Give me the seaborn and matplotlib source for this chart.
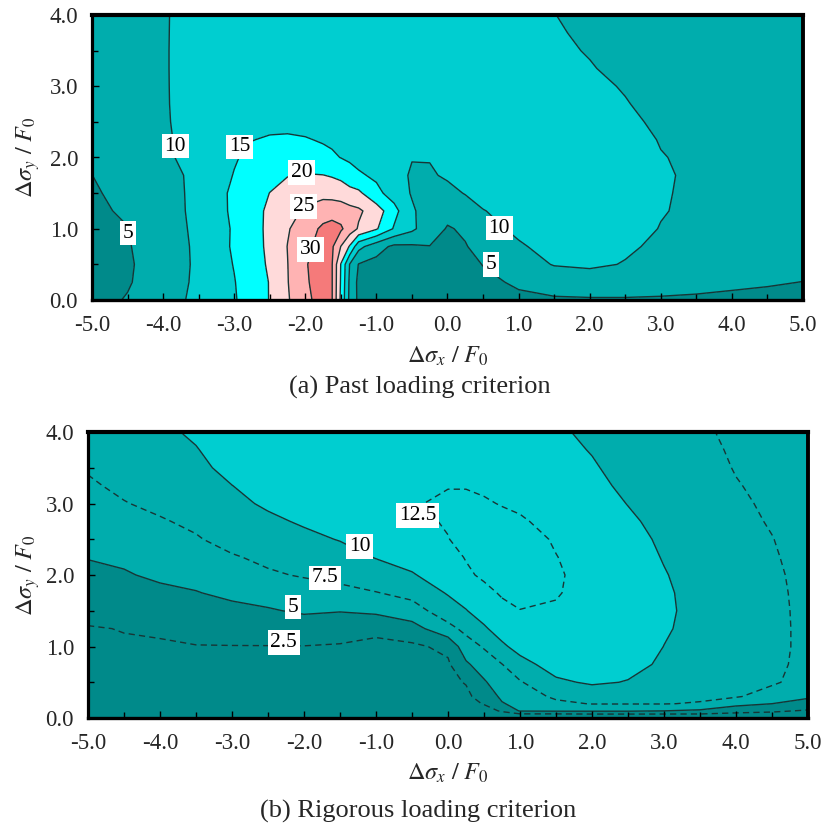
import numpy as np
import matplotlib
matplotlib.use("Agg")
import matplotlib.pyplot as plt
from matplotlib.ticker import MultipleLocator
import seaborn as sns

sns.set_style("ticks")
plt.rcParams["font.family"] = ["Liberation Serif", "DejaVu Serif"]
plt.rcParams["mathtext.fontset"] = "stix"
plt.rcParams["axes.unicode_minus"] = False

# ---------------- data: panel (a) Past loading criterion ----------------
x_a = [-5, -4.5, -4, -3.5, -3, -2.75, -2.5, -2.25, -2, -1.75, -1.625, -1.5, -1.375,
       -1.25, -1, -0.75, -0.5, -0.25, 0, 0.25, 0.5, 1, 1.5, 2, 2.5, 3, 3.5, 4, 4.5, 5]
y_a = [0, 0.25, 0.5, 0.75, 1.0, 1.25, 1.5, 1.75, 2.0, 2.25, 2.5, 2.75, 3.0, 3.25, 3.5, 3.75, 4.0]
z_a = [
    [3.5, 5.3, 8.1, 11.1, 14.6, 17.2, 20.2, 24.5, 28.8, 32.0, 30.3, 19.0, 8.75, 4.0, 2.5, 2.5, 2.5, 2.5, 2.5, 3.0, 3.5, 4.3, 4.6, 4.7, 4.7, 4.6, 4.5, 4.3, 4.1, 4.0],
    [3.5, 4.6, 7.6, 10.9, 14.8, 17.5, 20.2, 24.8, 29.3, 32.5, 30.3, 19.5, 9.0, 3.8, 2.5, 2.5, 2.5, 2.8, 3.0, 3.5, 4.2, 5.5, 6.5, 6.8, 6.8, 6.5, 6.0, 5.6, 5.3, 4.95],
    [3.5, 4.5, 7.1, 10.9, 15.2, 17.8, 20.7, 24.9, 29.6, 32.5, 30.3, 19.8, 9.8, 4.8, 3.5, 3.2, 3.2, 3.3, 3.5, 3.9, 5.1, 7.5, 10.3, 11.0, 9.7, 8.0, 7.5, 7.0, 6.5, 6.0],
    [3.7, 4.7, 7.4, 10.9, 15.6, 18.1, 21.0, 25.1, 28.8, 32.0, 30.8, 24.9, 19.5, 11.5, 7.0, 4.0, 4.3, 4.9, 4.6, 4.8, 6.2, 9.3, 12.0, 12.5, 10.8, 9.0, 8.2, 7.8, 7.3, 7.0],
    [4.0, 4.9, 7.4, 11.2, 15.5, 18.5, 20.9, 24.6, 27.5, 31.0, 32.0, 30.8, 27.5, 24.5, 20.5, 14.5, 11.0, 7.0, 4.7, 5.5, 8.0, 11.2, 13.0, 13.3, 12.0, 9.8, 8.6, 8.1, 7.7, 7.4],
    [4.3, 5.5, 7.5, 11.5, 15.8, 18.5, 20.8, 23.5, 25.6, 27.5, 27.8, 27.5, 26.5, 25.8, 22.5, 16.5, 10.7, 7.5, 6.2, 7.0, 9.8, 12.0, 13.5, 13.8, 12.7, 10.3, 9.0, 8.5, 8.1, 7.8],
    [4.6, 6.0, 8.0, 11.3, 15.9, 18.2, 20.05, 22.0, 23.5, 23.6, 23.3, 22.8, 21.7, 21.0, 16.2, 13.0, 9.6, 8.0, 8.3, 10.3, 11.8, 13.0, 14.0, 14.0, 13.0, 10.4, 9.2, 8.7, 8.3, 8.0],
    [4.98, 6.4, 8.5, 11.1, 15.2, 17.2, 18.8, 19.8, 20.3, 20.1, 19.6, 18.8, 17.0, 15.6, 14.2, 12.0, 9.4, 9.3, 10.8, 12.0, 12.8, 13.6, 14.2, 14.2, 13.2, 10.5, 9.3, 8.9, 8.6, 8.3],
    [5.5, 7.0, 9.3, 11.4, 14.6, 16.1, 17.0, 17.3, 17.2, 16.3, 15.7, 14.9, 14.2, 13.6, 12.5, 11.3, 10.2, 10.3, 11.8, 12.6, 13.2, 13.8, 14.1, 14.0, 12.8, 10.2, 9.2, 8.8, 8.6, 8.4],
    [6.0, 7.3, 9.45, 11.45, 13.8, 14.9, 15.4, 15.6, 15.3, 14.6, 14.2, 13.8, 13.4, 13.05, 12.4, 11.7, 11.1, 11.2, 12.05, 12.55, 12.95, 13.35, 13.4, 13.0, 11.8, 9.75, 9.0, 8.65, 8.45, 8.3],
    [6.5, 7.6, 9.6, 11.5, 13.0, 13.6, 13.9, 13.8, 13.5, 13.1, 12.9, 12.8, 12.6, 12.5, 12.3, 12.1, 12.0, 12.1, 12.3, 12.5, 12.7, 12.9, 12.7, 12.0, 10.8, 9.3, 8.8, 8.5, 8.3, 8.2],
    [6.85, 7.85, 9.7, 11.35, 12.6, 13.05, 13.25, 13.2, 13.0, 12.75, 12.65, 12.55, 12.45, 12.35, 12.2, 12.05, 11.95, 11.95, 12.0, 12.05, 12.1, 12.05, 11.75, 11.2, 10.15, 9.15, 8.75, 8.5, 8.3, 8.2],
    [7.2, 8.1, 9.75, 11.2, 12.2, 12.5, 12.6, 12.6, 12.5, 12.4, 12.4, 12.3, 12.3, 12.2, 12.1, 12.0, 11.9, 11.8, 11.7, 11.6, 11.5, 11.2, 10.8, 10.6, 9.8, 9.0, 8.7, 8.5, 8.3, 8.2],
    [7.35, 8.2, 9.78, 11.1, 12.0, 12.2, 12.3, 12.3, 12.25, 12.15, 12.15, 12.05, 12.05, 11.95, 11.85, 11.75, 11.65, 11.55, 11.5, 11.4, 11.25, 10.95, 10.55, 10.1, 9.6, 9.0, 8.7, 8.5, 8.3, 8.2],
    [7.5, 8.3, 9.8, 11.0, 11.8, 11.9, 12.0, 12.0, 12.0, 11.9, 11.9, 11.8, 11.8, 11.7, 11.6, 11.5, 11.4, 11.35, 11.3, 11.15, 11.0, 10.7, 10.3, 9.9, 9.4, 9.0, 8.7, 8.5, 8.3, 8.2],
    [7.6, 8.35, 9.8, 10.95, 11.65, 11.75, 11.85, 11.85, 11.8, 11.7, 11.7, 11.6, 11.6, 11.5, 11.45, 11.35, 11.25, 11.2, 11.15, 11.0, 10.85, 10.5, 10.12, 9.8, 9.35, 9.0, 8.75, 8.55, 8.35, 8.25],
    [7.7, 8.4, 9.8, 10.9, 11.5, 11.6, 11.7, 11.7, 11.6, 11.5, 11.5, 11.45, 11.4, 11.35, 11.3, 11.2, 11.1, 11.05, 11.0, 10.85, 10.7, 10.4, 10.02, 9.7, 9.3, 9.0, 8.8, 8.6, 8.4, 8.3],
]
fill_levels_a = [0, 5, 10, 15, 20, 25, 30, 40]
line_levels_a = [5, 10, 15, 20, 25, 30]
label_pos_a = [(-4.49, 0.94), (-3.83, 2.16), (-2.92, 2.15), (-2.05, 1.79),
               (-2.02, 1.31), (-1.93, 0.71), (0.73, 1.01), (0.61, 0.50)]

# ---------------- data: panel (b) Rigorous loading criterion ----------------
x_b = [-5, -4.5, -4, -3.5, -3, -2.5, -2, -1.5, -1, -0.5, 0, 0.25, 0.5, 0.75, 1,
       1.5, 2, 2.5, 3, 3.5, 4, 4.5, 5]
y_b = [0, 0.05, 0.1, 0.2, 0.3, 0.5, 0.75, 1.0, 1.25, 1.5, 1.75, 2.0, 2.25, 2.5,
       2.75, 3.0, 3.25, 3.5, 3.75, 4.0]
z_b_columns = [
    [1.3, 1.35, 1.4, 1.5, 1.6, 1.8, 2.0, 2.2, 2.4, 3.0, 3.7, 4.4, 5.1, 5.8, 6.25, 6.7, 7.2, 7.7, 8.1, 8.5],
    [1.5, 1.55, 1.6, 1.7, 1.8, 2.0, 2.2, 2.35, 2.55, 3.3, 4.0, 4.8, 5.4, 6.0, 6.7, 7.4, 7.95, 8.5, 8.9, 9.3],
    [1.6, 1.65, 1.7, 1.8, 1.9, 2.0, 2.15, 2.3, 2.75, 3.7, 4.5, 5.4, 6.0, 6.6, 7.3, 8.0, 8.45, 8.9, 9.25, 9.6],
    [1.7, 1.75, 1.8, 1.9, 2.0, 2.1, 2.25, 2.45, 3.0, 4.0, 4.9, 5.7, 6.5, 7.3, 7.95, 8.6, 9.05, 9.5, 9.9, 10.3],
    [1.8, 1.85, 1.9, 1.95, 2.0, 2.05, 2.2, 2.45, 3.3, 4.4, 5.5, 6.5, 7.3, 8.3, 8.9, 9.5, 9.98, 10.6, 10.95, 11.3],
    [1.9, 1.9, 1.95, 2.0, 2.0, 2.05, 2.2, 2.45, 3.5, 4.8, 5.9, 7.2, 8.0, 8.9, 9.6, 10.3, 10.8, 11.3, 11.6, 11.9],
    [1.9, 1.9, 1.95, 2.0, 2.0, 2.05, 2.2, 2.45, 3.8, 5.3, 6.4, 7.7, 8.6, 9.5, 10.25, 11.0, 11.4, 11.8, 11.95, 12.1],
    [1.9, 1.9, 1.95, 2.0, 2.0, 2.05, 2.15, 2.3, 3.6, 5.1, 6.8, 8.2, 9.2, 10.1, 10.8, 11.5, 11.8, 12.1, 12.15, 12.2],
    [1.9, 1.9, 1.95, 2.0, 2.0, 2.0, 2.0, 2.0, 3.0, 5.5, 7.4, 9.0, 10.1, 11.0, 11.5, 12.0, 12.1, 12.2, 12.2, 12.2],
    [1.9, 1.9, 1.9, 1.95, 2.0, 2.0, 2.05, 2.1, 4.0, 6.5, 8.2, 9.8, 10.9, 11.8, 12.1, 12.3, 12.3, 12.3, 12.25, 12.2],
    [1.8, 1.85, 1.9, 1.95, 2.0, 2.1, 2.2, 3.0, 6.8, 8.8, 10.2, 11.3, 11.9, 12.45, 12.65, 12.9, 12.4, 11.9, 11.75, 11.6],
    [1.5, 1.6, 1.7, 1.9, 2.1, 2.6, 4.6, 6.5, 8.1, 9.9, 11.0, 12.2, 12.6, 13.0, 13.0, 12.9, 12.4, 11.9, 11.7, 11.5],
    [1.2, 1.4, 1.8, 2.6, 3.3, 4.7, 6.3, 7.7, 9.7, 11.0, 12.0, 12.8, 13.1, 13.4, 13.1, 12.7, 12.2, 11.7, 11.5, 11.3],
    [1.0, 1.8, 2.7, 4.8, 5.5, 6.5, 7.45, 9.6, 11.0, 12.0, 12.7, 13.2, 13.4, 13.5, 13.0, 12.4, 11.95, 11.5, 11.25, 11.0],
    [1.0, 2.0, 5.2, 5.8, 6.3, 7.3, 9.2, 10.8, 11.8, 12.45, 13.1, 13.5, 13.45, 13.3, 12.7, 12.2, 11.75, 11.3, 11.05, 10.8],
    [1.0, 2.0, 5.3, 7.0, 7.9, 9.6, 11.0, 11.7, 12.1, 12.35, 12.6, 12.7, 12.55, 12.3, 11.95, 11.6, 11.2, 10.8, 10.55, 10.3],
    [1.0, 2.2, 5.3, 7.6, 8.6, 10.3, 11.2, 11.6, 11.9, 12.0, 12.0, 11.9, 11.7, 11.5, 11.15, 10.8, 10.5, 10.2, 9.9, 9.6],
    [1.0, 2.2, 5.3, 7.6, 8.5, 9.9, 10.6, 11.0, 11.2, 11.2, 11.1, 11.0, 10.8, 10.6, 10.3, 9.95, 9.6, 9.3, 9.1, 8.9],
    [1.0, 2.2, 5.0, 7.6, 8.3, 9.1, 9.7, 9.98, 10.2, 10.3, 10.25, 10.1, 9.9, 9.7, 9.45, 9.2, 9.0, 8.8, 8.6, 8.4],
    [1.1, 2.2, 4.6, 7.3, 8.0, 8.6, 9.0, 9.3, 9.4, 9.45, 9.4, 9.3, 9.15, 9.0, 8.8, 8.6, 8.4, 8.2, 8.0, 7.8],
    [1.2, 1.9, 3.3, 5.8, 7.7, 8.2, 8.5, 8.6, 8.7, 8.7, 8.6, 8.5, 8.35, 8.2, 8.0, 7.8, 7.6, 7.4, 7.25, 7.1],
    [1.3, 1.9, 2.8, 5.0, 6.5, 7.8, 8.0, 8.05, 8.05, 8.0, 7.95, 7.85, 7.7, 7.55, 7.35, 7.2, 7.05, 6.9, 6.75, 6.6],
    [1.3, 1.7, 2.3, 3.9, 5.4, 6.6, 6.9, 7.0, 7.0, 7.0, 6.95, 6.9, 6.8, 6.7, 6.6, 6.5, 6.4, 6.3, 6.2, 6.1],
]
fill_levels_b = [0, 5, 10, 20]
line_levels_b = [2.5, 5, 7.5, 10, 12.5]
label_pos_b = [(-0.42, 2.83), (-1.23, 2.40), (-1.71, 1.96), (-2.15, 1.55), (-2.28, 1.06)]

x_tick_values = [-5, -4, -3, -2, -1, 0, 1, 2, 3, 4, 5]
x_tick_labels = ["-5.0", "-4.0", "-3.0", "-2.0", "-1.0", "0.0", "1.0", "2.0", "3.0", "4.0", "5.0"]
y_tick_values = [0, 1, 2, 3, 4]
y_tick_labels = ["0.0", "1.0", "2.0", "3.0", "4.0"]

# ---------------- style ----------------
c_dark = "#008A8A"
c_teal = "#00ADAD"
c_turq = "#00CED0"
c_cyan = "#00FFFF"
c_pink1 = "#FFDADA"
c_pink2 = "#FFB3B3"
c_red = "#F57A7A"
line_col = "#183535"

fig = plt.figure(figsize=(8.29, 8.30), dpi=100)
ax_a = fig.add_axes([92 / 829, 1 - 300 / 830, 711 / 829, 285 / 830])
ax_b = fig.add_axes([88 / 829, 1 - 718 / 830, 720 / 829, 286 / 830])


def style_axis(ax):
    ax.set_xlim(-5, 5)
    ax.set_ylim(0, 4)
    ax.set_axisbelow(False)
    ax.set_xticks(x_tick_values)
    ax.set_xticklabels(x_tick_labels)
    ax.set_yticks(y_tick_values)
    ax.set_yticklabels(y_tick_labels)
    ax.xaxis.set_minor_locator(MultipleLocator(0.5))
    ax.yaxis.set_minor_locator(MultipleLocator(0.5))
    ax.tick_params(which="both", direction="in", top=False, right=False,
                   width=1.0, color="black")
    ax.tick_params(which="major", length=5)
    ax.tick_params(which="minor", length=4)
    ax.tick_params(axis="x", which="major", pad=11, labelsize=16.5)
    ax.tick_params(axis="y", which="major", pad=10, labelsize=16.5)
    widths = {"top": 3.0, "right": 2.8, "left": 2.3, "bottom": 2.4}
    for name, s in ax.spines.items():
        s.set_visible(True)
        s.set_linewidth(widths[name])
        s.set_color("black")
        s.set_zorder(10)


def add_labels(ax, cs, levels, positions):
    texts = ax.clabel(cs, levels=levels, manual=positions, inline=False,
                      fmt="%g", fontsize=15.5, colors="black")
    for t, p in zip(texts, positions):
        t.set_rotation(0)
        t.set_position(p)
        t.set_bbox(dict(facecolor="white", edgecolor="none", pad=2.0))
        t.set_zorder(6)


# panel (a)
Xa, Ya = np.meshgrid(x_a, y_a)
Za = np.array(z_a)
ax_a.contourf(Xa, Ya, Za, levels=fill_levels_a,
              colors=[c_dark, c_teal, c_turq, c_cyan, c_pink1, c_pink2, c_red])
cs_a = ax_a.contour(Xa, Ya, Za, levels=line_levels_a, colors=line_col, linewidths=1.0)
add_labels(ax_a, cs_a, line_levels_a, label_pos_a)
style_axis(ax_a)

# panel (b)
Xb, Yb = np.meshgrid(x_b, y_b)
Zb = np.array(z_b_columns).T
ax_b.contourf(Xb, Yb, Zb, levels=fill_levels_b, colors=[c_dark, c_teal, c_turq])
dash = (0, (4.5, 3.0))
cs_b = ax_b.contour(Xb, Yb, Zb, levels=line_levels_b, colors=line_col, linewidths=1.0,
                    linestyles=[dash, "-", dash, "-", dash])
add_labels(ax_b, cs_b, line_levels_b, label_pos_b)
style_axis(ax_b)

# texts
fig.text(447.5 / 829, 1 - 356 / 830, r"$\Delta\sigma_x\ /\ F_0$", ha="center", va="center", fontsize=17.5)
fig.text(420 / 829, 1 - 387 / 830, "(a) Past loading criterion", ha="center", va="center", fontsize=19)
fig.text(28 / 829, 1 - 157 / 830, r"$\Delta\sigma_y\ /\ F_0$", ha="center", va="center", fontsize=17.5, rotation=90)
fig.text(448 / 829, 1 - 773 / 830, r"$\Delta\sigma_x\ /\ F_0$", ha="center", va="center", fontsize=17.5)
fig.text(418 / 829, 1 - 811 / 830, "(b) Rigorous loading criterion", ha="center", va="center", fontsize=19)
fig.text(28 / 829, 1 - 575 / 830, r"$\Delta\sigma_y\ /\ F_0$", ha="center", va="center", fontsize=17.5, rotation=90)

fig.savefig("out.png", dpi=100)
